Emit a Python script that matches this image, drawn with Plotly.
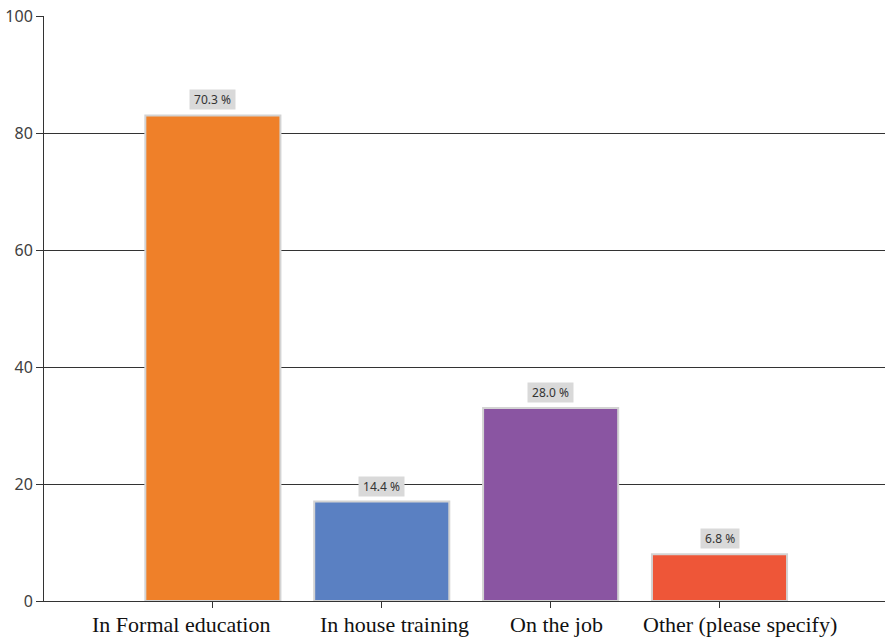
import plotly.graph_objects as go

categories = ["In Formal education", "In house training", "On the job", "Other (please specify)"]
counts = [83, 17, 33, 8]
percents = [70.3, 14.4, 28.0, 6.8]
colors = ["#EF8029", "#5A80C2", "#8A55A2", "#EE5638"]
y_ticks = [0, 20, 40, 60, 80, 100]

# horizontal pixel offsets of category labels as drawn in the original
label_shift = [-32, 13, 6, 20]

fig = go.Figure()
fig.add_trace(go.Bar(
    x=list(range(len(categories))),
    y=counts,
    width=0.8,
    marker=dict(color=colors, line=dict(color="#d3d3d3", width=2)),
    hoverinfo="skip",
))

for i, (c, p) in enumerate(zip(counts, percents)):
    fig.add_annotation(
        x=i, y=c, text=f"&nbsp;{p:.1f} %&nbsp;", showarrow=False,
        yanchor="bottom", yshift=5,
        bgcolor="#d9d9d9", borderpad=1,
        font=dict(family="Noto Sans, Arial, sans-serif", size=12, color="#333333"),
    )

for i, (cat, dx) in enumerate(zip(categories, label_shift)):
    fig.add_annotation(
        x=i, xref="x", y=0, yref="paper", text=cat, showarrow=False,
        xanchor="center", yanchor="top", xshift=dx, yshift=-9,
        font=dict(family="Liberation Serif, Times New Roman, serif", size=22, color="#111111"),
    )

fig.update_layout(
    width=885, height=638,
    margin=dict(l=44, r=0, t=16, b=37, autoexpand=False),
    paper_bgcolor="white", plot_bgcolor="white",
    showlegend=False,
    xaxis=dict(
        range=[-1, 3.98],
        tickmode="array", tickvals=list(range(len(categories))), ticktext=categories,
        showticklabels=False,
        ticks="outside", ticklen=6, tickcolor="#333333",
        showline=True, linecolor="#333333", linewidth=1,
        showgrid=False, zeroline=False, automargin=False,
    ),
    yaxis=dict(
        range=[0, 100],
        tickvals=y_ticks,
        ticks="outside", ticklen=7, tickcolor="#333333",
        showline=True, linecolor="#333333", linewidth=1,
        showgrid=True, gridcolor="#333333", gridwidth=1,
        zeroline=False, automargin=False,
        tickfont=dict(family="Noto Sans, Arial, sans-serif", size=16, color="#404040"),
    ),
)

fig.write_html(
    "out.html",
    config={"displayModeBar": False},
    post_script="document.body.style.margin='0';document.body.style.overflow='hidden';",
)
